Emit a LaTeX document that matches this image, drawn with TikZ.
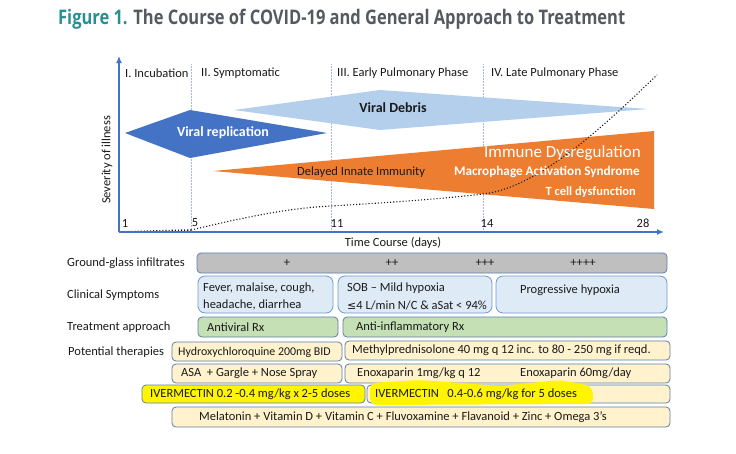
\documentclass[tikz,border=0pt]{standalone}
\usepackage{fontspec}
\setmainfont{Carlito}
\newfontfamily\titlefont{Open Sans}
\newfontfamily\symfont{DejaVu Sans}
\usetikzlibrary{arrows.meta}
\definecolor{obl}{HTML}{4472C4}
\definecolor{lbl}{HTML}{B4CFEC}
\definecolor{ora}{HTML}{ED7D31}
\definecolor{teal1}{HTML}{2A8F93}
\definecolor{tgray}{HTML}{555A60}
\definecolor{divc}{HTML}{A8BAD6}
\definecolor{bord}{HTML}{5E7FA8}
\definecolor{ggfill}{HTML}{BFBFBF}
\definecolor{csfill}{HTML}{DEEBF7}
\definecolor{csbord}{HTML}{6F98D2}
\definecolor{grfill}{HTML}{C5E0B4}
\definecolor{befill}{HTML}{FFF2CC}
\definecolor{hly}{HTML}{FFF500}
\definecolor{txt}{HTML}{1A1A1A}
\tikzset{
  axis/.style={draw=obl, line width=1.6pt, -{Latex[length=7pt,width=6pt]}},
  divline/.style={draw=divc, line width=0.5pt, densely dotted},
  curve/.style={draw=black!90, line width=1.1pt, dotted},
  lab/.style={inner sep=0pt, text=txt, font=\fontsize{12.5}{14}\selectfont},
  tbox/.style={draw=bord, line width=0.8pt, rounded corners=4pt, inner sep=0pt},
  ggbox/.style={tbox, fill=ggfill},
  csbox/.style={tbox, draw=csbord, fill=csfill, rounded corners=7pt},
  grbox/.style={tbox, fill=grfill},
  bebox/.style={tbox, fill=befill},
  hlbox/.style={tbox, fill=hly},
}
\begin{document}
\begin{tikzpicture}[x=1pt,y=-1pt]
\useasboundingbox[fill=white] (0,0) rectangle (736,453);

% title
\node[anchor=west, inner sep=0pt] (title) at (58,19)
  {\resizebox{567pt}{!}{\scalebox{0.82}[1]{\titlefont\bfseries\fontsize{17}{20}\selectfont\color{teal1}Figure 1. \color{tgray}The Course of COVID-19 and General Approach to Treatment}}};

% axes
\coordinate (O) at (119,232);
\coordinate (Ytop) at (119,56);
\coordinate (Xend) at (664,232);

% phase dividers
\coordinate (d5t) at (191,64); \coordinate (d5b) at (191,232);
\coordinate (d11t) at (331,64); \coordinate (d11b) at (331,232);
\coordinate (d14t) at (483,64); \coordinate (d14b) at (483,232);
\draw[divline] (d5t) -- (d5b);
\draw[divline] (d11t) -- (d11b);
\draw[divline] (d14t) -- (d14b);

% viral debris (light blue)
\fill[lbl] (234,110) -- (380,90) -- (648,109) -- (380,130) -- cycle;
% viral replication (dark blue diamond)
\fill[obl] (125,133) -- (190,110) -- (327,133) -- (190,158) -- cycle;
% orange wedge
\fill[ora] (213,171) -- (654,131) -- (654,209) -- cycle;

% dotted curve
\coordinate (c0) at (119,232);
\coordinate (c1) at (191,230);
\coordinate (c2) at (331,206);
\coordinate (c3) at (483,194);
\coordinate (c4) at (657,75);
\draw[curve, line width=1.6pt] (c0) -- (c1);
\draw[curve] (c1) .. controls (250,216) and (290,208) .. (c2)
  .. controls (400,202) and (450,198) .. (c3)
  .. controls (540,188) and (610,120) .. (c4);

\draw[axis] (O) -- (Ytop);
\draw[axis] (O) -- (Xend);

% shape texts
\node[lab, text=white, font=\bfseries\fontsize{14}{16}\selectfont] (vr) at (223,133) {Viral replication};
\node[lab, font=\bfseries\fontsize{14}{16}\selectfont] (vd) at (393,108) {Viral Debris};
\node[lab, anchor=west] (dii) at (297,172) {Delayed Innate Immunity};
\node[lab, anchor=east, text=white, font=\fontsize{17}{19}\selectfont] (imd) at (641,153) {Immune Dysregulation};
\node[lab, anchor=east, text=white, font=\bfseries\fontsize{13.2}{15}\selectfont] (mas) at (640,172) {Macrophage Activation Syndrome};
\node[lab, anchor=east, text=white, font=\bfseries\fontsize{12.5}{14}\selectfont] (tcd) at (636,192) {T cell dysfunction};

% phase labels
\node[lab, anchor=west] (p1) at (125,73) {I. Incubation};
\node[lab, anchor=west] (p2) at (201,73) {II. Symptomatic};
\node[lab, anchor=west] (p3) at (337,73) {III. Early Pulmonary Phase};
\node[lab, anchor=west] (p4) at (491,73) {IV. Late Pulmonary Phase};

% ticks
\node[lab] (t1) at (125,223) {1};
\node[lab] (t5) at (195,223) {5};
\node[lab] (t11) at (337,223) {11};
\node[lab] (t14) at (487,223) {14};
\node[lab] (t28) at (643,223) {28};
\node[lab] (xl) at (393,243) {Time Course (days)};
\node[lab, rotate=90] (yl) at (107,160) {Severity of illness};

% table row labels
\node[lab, anchor=west] (r1) at (67,263) {Ground-glass infiltrates};
\node[lab, anchor=west] (r2) at (67,295) {Clinical Symptoms};
\node[lab, anchor=west] (r3) at (67,327) {Treatment approach};
\node[lab, anchor=west] (r4) at (68,352) {Potential therapies};

% ground glass
\node[ggbox, minimum width=470pt, minimum height=20pt] (gg) at (432,263) {};
\node[lab] (g1) at (287,263) {+};
\node[lab] (g2) at (392,263) {++};
\node[lab] (g3) at (485,263) {+++};
\node[lab] (g4) at (583,263) {++++};

% clinical symptoms
\node[csbox, minimum width=135pt, minimum height=37pt] (cs1) at (265.5,294.5) {};
\node[csbox, minimum width=154pt, minimum height=37pt] (cs2) at (415,294.5) {};
\node[csbox, minimum width=171pt, minimum height=37pt] (cs3) at (581.5,294.5) {};
\node[lab, anchor=west] (cs1a) at (203,288) {Fever, malaise, cough,};
\node[lab, anchor=west] (cs1b) at (203,305) {headache, diarrhea};
\node[lab, anchor=west] (cs2a) at (347,288) {SOB – Mild hypoxia};
\node[lab, anchor=west] (cs2b) at (347,305) {{\symfont\fontsize{11}{13}\selectfont ≤}4 L/min N/C \& aSat < 94\%};
\node[lab] (cs3a) at (570,290) {Progressive hypoxia};

% treatment
\node[grbox, minimum width=140pt, minimum height=20pt] (tr1) at (268,327) {};
\node[grbox, minimum width=324pt, minimum height=20pt] (tr2) at (505,327) {};
\node[lab, anchor=west] (tr1t) at (207,327) {Antiviral Rx};
\node[lab, anchor=west] (tr2t) at (356,327) {Anti-inflammatory Rx};

% therapies
\node[bebox, minimum width=170pt, minimum height=19pt] (th1) at (257,351.5) {};
\node[bebox, minimum width=325pt, minimum height=19pt] (th2) at (507.5,350.5) {};
\node[lab, anchor=west, font=\fontsize{11.9}{14}\selectfont] (th1t) at (178,352) {Hydroxychloroquine 200mg BID};
\node[lab, anchor=west] (th2t) at (352,350.5) {Methylprednisolone 40 mg q 12 inc. to 80 - 250 mg if reqd.};

\node[bebox, minimum width=170pt, minimum height=19pt] (as1) at (257,373.5) {};
\node[bebox, minimum width=325pt, minimum height=19pt] (as2) at (507.5,373.5) {};
\node[lab, anchor=west] (as1t) at (181,373.5) {ASA\ \ + Gargle + Nose Spray};
\node[lab, anchor=west] (as2t) at (357,373.5) {Enoxaparin 1mg/kg q 12};
\node[lab, anchor=west] (as3t) at (520,373.5) {Enoxaparin 60mg/day};

\node[hlbox, minimum width=223pt, minimum height=18pt] (iv1) at (253.5,394) {};
\node[bebox, minimum width=303pt, minimum height=18pt] (iv2) at (518.5,394) {};
\fill[hly, rounded corners=7pt] (370,383) -- (420,380) -- (500,386) -- (560,380) -- (592,386) -- (594,404) -- (370,405) -- cycle;
\node[lab, anchor=west] (iv1t) at (150,394) {IVERMECTIN 0.2 -0.4 mg/kg x 2-5 doses};
\node[lab, anchor=west] (iv2t) at (375,394) {IVERMECTIN\ \ \ 0.4-0.6 mg/kg for 5 doses};

\node[bebox, minimum width=498pt, minimum height=20pt] (mel) at (421,417) {};
\node[lab] (melt) at (403,417) {Melatonin + Vitamin D + Vitamin C + Fluvoxamine + Flavanoid + Zinc + Omega 3’s};
\end{tikzpicture}
\end{document}
